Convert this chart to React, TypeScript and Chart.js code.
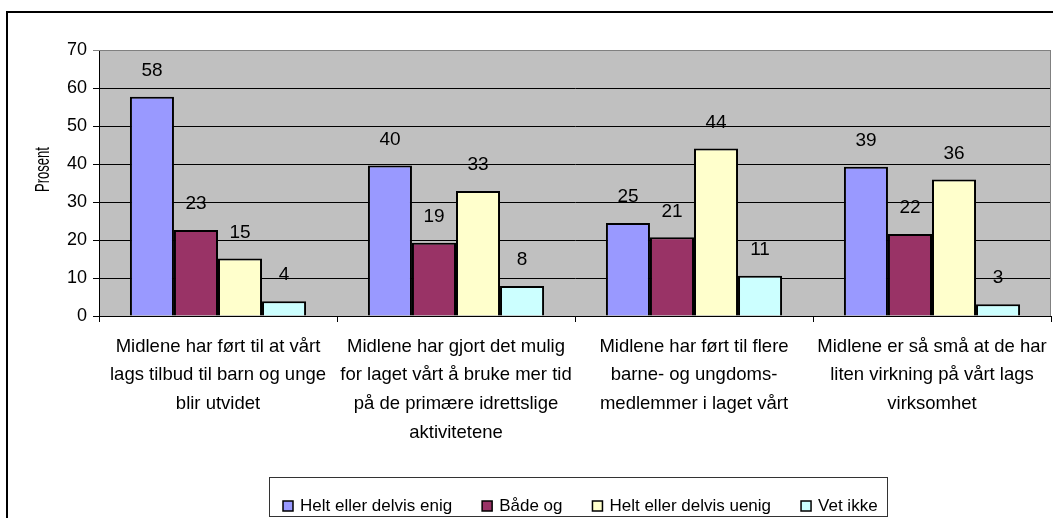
import React, { useEffect, useRef } from "react";
import { Chart, registerables } from "chart.js";

Chart.register(...registerables);

// ---- data ----
const categories: string[][] = [
  ["Midlene har ført til at vårt", "lags tilbud til barn og unge", "blir utvidet"],
  ["Midlene har gjort det mulig", "for laget vårt å bruke mer tid", "på de primære idrettslige", "aktivitetene"],
  ["Midlene har ført til flere", "barne- og ungdoms-", "medlemmer i laget vårt"],
  ["Midlene er så små at de har", "liten virkning på vårt lags", "virksomhet"],
];
const seriesNames = ["Helt eller delvis enig", "Både og", "Helt eller delvis uenig", "Vet ikke"];
const enigValues = [57.7, 39.6, 24.5, 39.3];
const badeOgValues = [22.6, 19.3, 20.7, 21.6];
const uenigValues = [15.1, 32.9, 44.1, 35.9];
const vetIkkeValues = [3.9, 7.9, 10.6, 3.1];
const enigLabels = ["58", "40", "25", "39"];
const badeOgLabels = ["23", "19", "21", "22"];
const uenigLabels = ["15", "33", "44", "36"];
const vetIkkeLabels = ["4", "8", "11", "3"];
const yMin = 0;
const yMax = 70;
const yStep = 10;
const yAxisTitle = "Prosent";

const seriesColors = ["#9999FF", "#993366", "#FFFFCC", "#CCFFFF"];
const FONT = "'Liberation Sans', Arial, sans-serif";

export default function App() {
  const canvasRef = useRef<HTMLCanvasElement | null>(null);

  useEffect(() => {
    const canvas = canvasRef.current;
    if (!canvas) return;
    const valueSets = [enigValues, badeOgValues, uenigValues, vetIkkeValues];
    const labelSets = [enigLabels, badeOgLabels, uenigLabels, vetIkkeLabels];

    const framePlugin = {
      id: "frame",
      beforeDraw(chart: any) {
        const { ctx, chartArea } = chart;
        ctx.save();
        ctx.fillStyle = "#ffffff";
        ctx.fillRect(0, 0, chart.width, chart.height);
        ctx.fillStyle = "#000000";
        ctx.fillRect(6, 11, chart.width, 2);
        ctx.fillRect(6, 11, 2, chart.height);
        ctx.fillStyle = "#C0C0C0";
        ctx.fillRect(chartArea.left, chartArea.top, chartArea.right - chartArea.left, chartArea.bottom - chartArea.top);
        ctx.restore();
      },
      beforeDatasetsDraw(chart: any) {
        const { ctx, chartArea } = chart;
        ctx.save();
        ctx.strokeStyle = "#808080";
        ctx.lineWidth = 1;
        ctx.beginPath();
        ctx.moveTo(chartArea.left, Math.round(chartArea.top) + 0.5);
        ctx.lineTo(Math.round(chartArea.right) - 0.5, Math.round(chartArea.top) + 0.5);
        ctx.lineTo(Math.round(chartArea.right) - 0.5, chartArea.bottom);
        ctx.stroke();
        ctx.restore();
      },
      afterDatasetsDraw(chart: any) {
        const { ctx } = chart;
        ctx.save();
        ctx.fillStyle = "#000000";
        ctx.font = `19px ${FONT}`;
        ctx.textAlign = "center";
        ctx.textBaseline = "middle";
        chart.data.datasets.forEach((ds: any, di: number) => {
          const meta = chart.getDatasetMeta(di);
          meta.data.forEach((bar: any, i: number) => {
            ctx.fillText(labelSets[di][i], bar.x, bar.y - 26);
          });
        });
        ctx.restore();
      },
      afterDraw(chart: any) {
        const { ctx } = chart;
        ctx.save();
        // y axis title
        ctx.fillStyle = "#000000";
        ctx.translate(43.5, 169.5);
        ctx.rotate(-Math.PI / 2);
        ctx.scale(0.65, 1);
        ctx.font = `20px ${FONT}`;
        ctx.textAlign = "center";
        ctx.textBaseline = "middle";
        ctx.fillText(yAxisTitle, 0, 0);
        ctx.restore();

        // legend
        ctx.save();
        const fl = 269, fr = 887, ft = 477, fb = 517;
        ctx.strokeStyle = "#333333";
        ctx.lineWidth = 1;
        ctx.strokeRect(fl + 0.5, ft + 0.5, fr - fl, fb - ft - 1);
        ctx.font = `17px ${FONT}`;
        ctx.textBaseline = "middle";
        ctx.textAlign = "left";
        const cy = 506;
        let x = 283;
        chart.data.datasets.forEach((ds: any) => {
          ctx.fillStyle = ds.backgroundColor;
          ctx.fillRect(x, cy - 5, 10, 10);
          ctx.strokeStyle = "#000000";
          ctx.lineWidth = 1.5;
          ctx.strokeRect(x, cy - 5, 10, 10);
          ctx.fillStyle = "#000000";
          const tx = x + 17;
          ctx.fillText(ds.label, tx, cy);
          x = tx + ctx.measureText(ds.label).width + 30;
        });
        ctx.restore();
      },
    };

    const chart = new Chart(canvas, {
      type: "bar",
      data: {
        labels: categories,
        datasets: seriesNames.map((name, i) => ({
          label: name,
          data: valueSets[i],
          backgroundColor: seriesColors[i],
          borderColor: "#000000",
          borderWidth: 2,
          categoryPercentage: 0.74,
          barPercentage: 1,
        })),
      },
      options: {
        responsive: false,
        animation: false,
        layout: { padding: { top: 50, right: 2, left: 0, bottom: 0 } },
        plugins: {
          legend: { display: false },
          tooltip: { enabled: false },
          title: { display: false },
        },
        scales: {
          x: {
            grid: {
              offset: true,
              drawOnChartArea: false,
              drawTicks: true,
              tickLength: 6,
              color: "#000000",
            },
            border: { display: true, color: "#000000", width: 1 },
            ticks: {
              color: "#000000",
              font: { family: FONT, size: 18.5, lineHeight: 1.56 },
              padding: 10,
              autoSkip: false,
              maxRotation: 0,
              minRotation: 0,
            },
            afterFit(scale: any) {
              scale.height = 202;
              scale.paddingLeft = 0;
              scale.paddingRight = 0;
            },
          },
          y: {
            min: yMin,
            max: yMax,
            ticks: {
              stepSize: yStep,
              color: "#000000",
              font: { family: FONT, size: 18 },
              padding: 6,
            },
            grid: {
              color: (c: any) => (c.tick && c.tick.value === yMax ? "#808080" : "#000000"),
              tickLength: 6,
              lineWidth: 1,
            },
            border: { display: true, color: "#000000", width: 1 },
            afterFit(scale: any) {
              scale.width = 99;
              scale.paddingTop = 0;
              scale.paddingBottom = 0;
            },
          },
        },
      },
      plugins: [framePlugin],
    } as any);

    return () => chart.destroy();
  }, []);

  return (
    <div style={{ position: "absolute", left: 0, top: 0, width: 1053, height: 518 }}>
      <canvas ref={canvasRef} width={1053} height={518} style={{ display: "block" }} />
    </div>
  );
}
